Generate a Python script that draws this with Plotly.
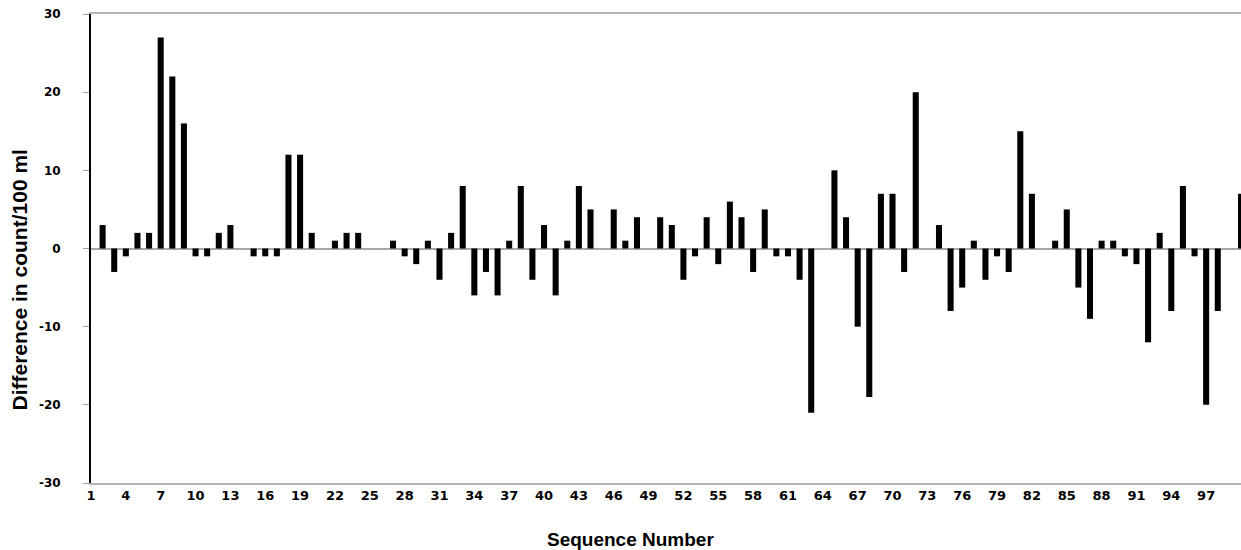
import plotly.graph_objects as go

# Sequence numbers (categories) and difference in count/100 ml
sequence = list(range(1, 101))
difference = [
    0, 3, -3, -1, 2, 2, 27, 22, 16, -1,
    -1, 2, 3, 0, -1, -1, -1, 12, 12, 2,
    0, 1, 2, 2, 0, 0, 1, -1, -2, 1,
    -4, 2, 8, -6, -3, -6, 1, 8, -4, 3,
    -6, 1, 8, 5, 0, 5, 1, 4, 0, 4,
    3, -4, -1, 4, -2, 6, 4, -3, 5, -1,
    -1, -4, -21, 0, 10, 4, -10, -19, 7, 7,
    -3, 20, 0, 3, -8, -5, 1, -4, -1, -3,
    15, 7, 0, 1, 5, -5, -9, 1, 1, -1,
    -2, -12, 2, -8, 8, -1, -20, -8, 0, 7,
]
x_tick_values = [1, 4, 7, 10, 13, 16, 19, 22, 25, 28, 31, 34, 37, 40, 43, 46, 49,
                 52, 55, 58, 61, 64, 67, 70, 73, 76, 79, 82, 85, 88, 91, 94, 97]
x_tick_labels = [str(v) for v in x_tick_values]
y_tick_values = [-30, -20, -10, 0, 10, 20, 30]
y_tick_labels = [str(v) for v in y_tick_values]

tick_font = dict(family="DejaVu Sans", color="black", weight="bold")
title_font = dict(family="Liberation Sans, Arial", color="black", size=21)

fig = go.Figure(
    go.Bar(
        x=sequence,
        y=difference,
        width=0.52,
        marker=dict(color="black", line=dict(width=0)),
        showlegend=False,
    )
)

fig.update_layout(
    width=1241,
    height=550,
    margin=dict(l=91, r=0, t=14, b=67),
    plot_bgcolor="white",
    paper_bgcolor="white",
    bargap=0.48,
    xaxis=dict(
        range=[1, 100],
        tickmode="array",
        tickvals=x_tick_values,
        ticktext=x_tick_labels,
        tickfont=dict(size=13, **tick_font),
        ticks="",
        showgrid=False,
        zeroline=False,
        showline=True,
        linecolor="#b4b4b4",
        linewidth=1.5,
        mirror=True,
    ),
    yaxis=dict(
        range=[-30, 30],
        tickmode="array",
        tickvals=y_tick_values,
        ticktext=y_tick_labels,
        tickfont=dict(size=12, **tick_font),
        ticks="outside",
        ticklen=6,
        tickwidth=1,
        tickcolor="#a0a0a0",
        ticklabelstandoff=20,
        showgrid=False,
        showline=True,
        linecolor="black",
        linewidth=2,
        zeroline=True,
        zerolinecolor="#a8a8a8",
        zerolinewidth=1.5,
    ),
    annotations=[
        dict(
            text="<b>Difference in count/100 ml</b>",
            textangle=-90,
            xref="paper", yref="paper",
            x=0, y=(483 - 280) / 469,
            xshift=-72.5,
            xanchor="center", yanchor="middle",
            showarrow=False,
            font=title_font,
        ),
        dict(
            text="<b>Sequence Number</b>",
            xref="paper", yref="paper",
            x=(630 - 91) / 1150, y=(483 - 539) / 469,
            xanchor="center", yanchor="middle",
            showarrow=False,
            font=dict(family="Liberation Sans, Arial", color="black", size=19),
        ),
    ],
)

fig.write_html(
    "out.html",
    config={"displayModeBar": False},
    post_script="document.body.style.margin='0';document.body.style.overflow='hidden';",
)
